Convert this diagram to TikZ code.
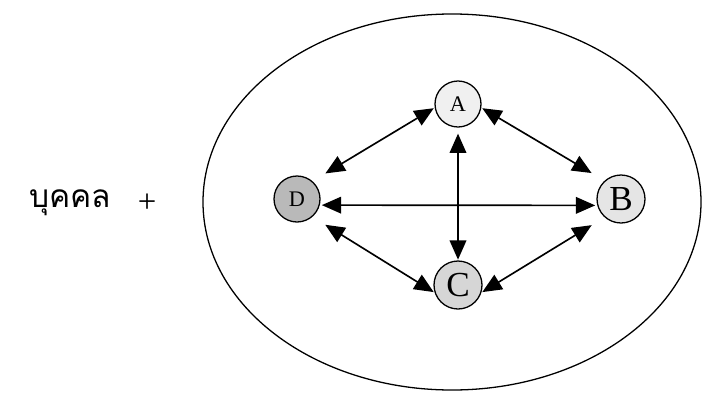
\documentclass[tikz,border=0pt]{standalone}
\usepackage{fontspec}
\setmainfont{Liberation Serif}
\newfontfamily\thaifont[Script=Thai]{Loma}
\usepackage{tikz}
\usetikzlibrary{arrows.meta,positioning}
\tikzset{
  >={Triangle[length=0.58cm, width=0.5cm]},
  person/.style={draw, circle, line width=1.1pt, minimum size=1.38cm, inner sep=0pt},
  small/.style={font=\fontsize{19}{21}\selectfont},
  big/.style={font=\fontsize{30}{32}\selectfont},
  link/.style={<->, line width=1.4pt},
}

\begin{document}
\begin{tikzpicture}[x=0.03cm, y=-0.03cm]
  \useasboundingbox (0,0) rectangle (703,393);
  \draw[line width=1.1pt] (452,202) ellipse [x radius=249, y radius=188];

  \node[font=\thaifont\fontsize{27}{30}\selectfont] (group) at (70,203) {บุคคล};
  \node[font=\fontsize{28}{30}\selectfont, right=16pt of group] (plus) {+};

  \node[person, small, fill=gray!12] (A) at (458,104) {A};
  \node[person, big, fill=gray!20, minimum size=1.44cm] (B) at (621,199) {B};
  \node[person, big, fill=gray!32, minimum size=1.44cm] (C) at (458,285) {C};
  \node[person, small, fill=gray!55] (D) at (297,199) {D};

  \draw[link, shorten >=0.45cm, shorten <=0.03cm] (A.189) -- (D.49);
  \draw[link, shorten >=0.45cm, shorten <=0.03cm] (A.351) -- (B.132);
  \draw[link, shorten >=0.06cm, shorten <=0.06cm] (D.-15) -- (B.195);
  \draw[link, shorten >=0.02cm, shorten <=0.18cm] (A.south) -- (C.north);
  \draw[link, shorten >=0.03cm, shorten <=0.45cm] (D.-49) -- (C.198);
  \draw[link, shorten >=0.45cm, shorten <=0.03cm] (C.-18) -- (B.228);
\end{tikzpicture}
\end{document}
